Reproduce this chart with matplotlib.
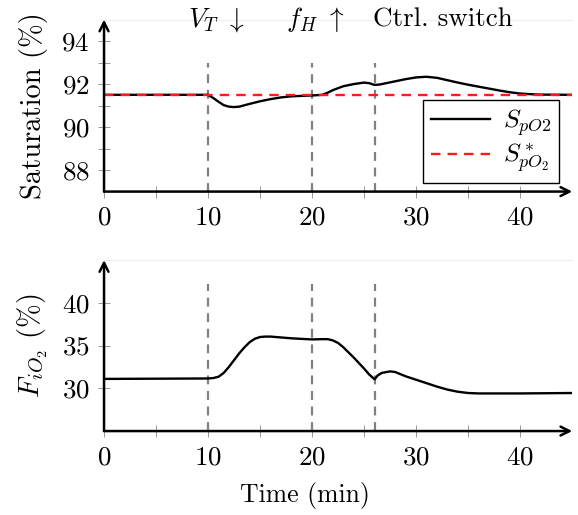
import matplotlib
matplotlib.use("Agg")
import matplotlib.pyplot as plt

plt.rcParams['font.family'] = 'serif'
plt.rcParams['font.serif'] = ['cmr10']
plt.rcParams['mathtext.fontset'] = 'cm'
plt.rcParams['axes.formatter.use_mathtext'] = True

# -------------------------------------------
# Data
# -------------------------------------------
t_sat = [0, 10, 10.5, 11, 11.5, 12, 12.5, 13, 14, 15, 16, 17, 18, 19, 20, 21,
         21.5, 22, 23, 24, 25, 25.5, 26, 26.5, 27, 28, 29, 30, 31, 32, 33, 34,
         35, 36, 37, 38, 39, 40, 41, 42, 45]
s_po2 = [91.5, 91.5, 91.35, 91.18, 91.02, 90.95, 90.93, 90.95, 91.08, 91.2,
         91.3, 91.38, 91.43, 91.45, 91.47, 91.5, 91.6, 91.72, 91.9, 92.0,
         92.07, 92.04, 91.96, 91.98, 92.03, 92.13, 92.23, 92.31, 92.34, 92.29,
         92.18, 92.07, 91.97, 91.88, 91.79, 91.7, 91.62, 91.56, 91.53, 91.51, 91.5]
s_ref = [91.5, 91.5]
t_ref = [0, 45]

t_fio2 = [0, 10, 10.5, 11, 11.5, 12, 12.5, 13, 13.5, 14, 14.5, 15, 15.5, 16,
          17, 18, 19, 20, 21, 21.5, 22, 22.5, 23, 24, 25, 25.5, 26, 26.3, 26.7,
          27.5, 28, 29, 30, 31, 32, 33, 34, 35, 36, 40, 45]
fio2 = [31.1, 31.15, 31.2, 31.35, 31.8, 32.5, 33.3, 34.1, 34.8, 35.4, 35.8,
        36.0, 36.05, 36.05, 35.95, 35.85, 35.78, 35.72, 35.75, 35.75, 35.6,
        35.3, 34.8, 33.6, 32.3, 31.6, 31.05, 31.5, 31.8, 31.98, 31.9, 31.4,
        31.0, 30.6, 30.2, 29.85, 29.6, 29.45, 29.4, 29.4, 29.45]

events = [10, 20, 26]
event_labels = [r"$V_T\ \downarrow$", r"$f_H\ \uparrow$", "Ctrl. switch"]
event_label_x = [10.8, 20.3, 32.6]

# -------------------------------------------
# Plot
# -------------------------------------------
fig = plt.figure(figsize=(5.78, 5.15), dpi=100)
ax1 = fig.add_axes([0.18, 0.628, 0.81, 0.334])
ax2 = fig.add_axes([0.18, 0.163, 0.81, 0.332])

fs = 19.5


def style_axes(ax):
    for s in ['left', 'bottom', 'right']:
        ax.spines[s].set_visible(False)
    ax.spines['top'].set_color('#eeeeee')
    ax.spines['top'].set_linewidth(0.8)
    ax.annotate('', xy=(1, 0), xytext=(0, 0), xycoords='axes fraction',
                arrowprops=dict(arrowstyle='->', lw=1.8, color='k',
                                shrinkA=0, shrinkB=0, mutation_scale=16))
    ax.annotate('', xy=(0, 1), xytext=(0, 0), xycoords='axes fraction',
                arrowprops=dict(arrowstyle='->', lw=1.8, color='k',
                                shrinkA=0, shrinkB=0, mutation_scale=16))
    ax.tick_params(which='both', direction='inout', color='#888888',
                   width=0.6, labelsize=fs, length=9, pad=6)
    ax.set_xlim(0, 45)
    ax.set_xticks([0, 10, 20, 30, 40])
    ax.set_xticks([5, 15, 25, 35], minor=True)


style_axes(ax1)
style_axes(ax2)

# top: saturation
ax1.set_ylim(87, 95)
ax1.set_yticks([88, 90, 92, 94])
ax1.set_yticks([89, 91, 93], minor=True)
for e in events:
    ax1.plot([e, e], [87, 93], color='#808080', lw=1.6, ls=(0, (4, 3)))
ax1.plot(t_sat, s_po2, color='k', lw=1.7, label=r"$S_{pO2}$")
ax1.plot(t_ref, s_ref, color='#ff1a1a', lw=1.7, ls=(0, (4, 3)),
         label=r"$S^*_{pO_2}$")
ax1.set_ylabel("Saturation (%)", fontsize=20.5)
ax1.yaxis.set_label_coords(-0.119, 0.5)
leg = ax1.legend(loc='lower right', bbox_to_anchor=(0.972, 0.05), fontsize=18.5,
                 fancybox=False, edgecolor='k', framealpha=1, handlelength=2.3,
                 borderpad=0.3, labelspacing=0.15, borderaxespad=0,
                 handletextpad=0.5)
leg.get_frame().set_linewidth(1.0)
for lab, x in zip(event_labels, event_label_x):
    ax1.text(x, 95.0, lab, fontsize=fs, ha='center', va='center')

# bottom: FiO2
ax2.set_ylim(25, 45)
ax2.set_yticks([30, 35, 40])
for e in events:
    ax2.plot([e, e], [25, 42.2], color='#808080', lw=1.6, ls=(0, (4, 3)))
ax2.plot(t_fio2, fio2, color='k', lw=1.7)
ax2.set_ylabel(r"$F_{iO_2}$ (%)", fontsize=20.5)
ax2.yaxis.set_label_coords(-0.115, 0.5)
ax2.set_xlabel("Time (min)", fontsize=18.5)
ax2.xaxis.set_label_coords(0.43, -0.3)

fig.savefig("out.png", dpi=100)
